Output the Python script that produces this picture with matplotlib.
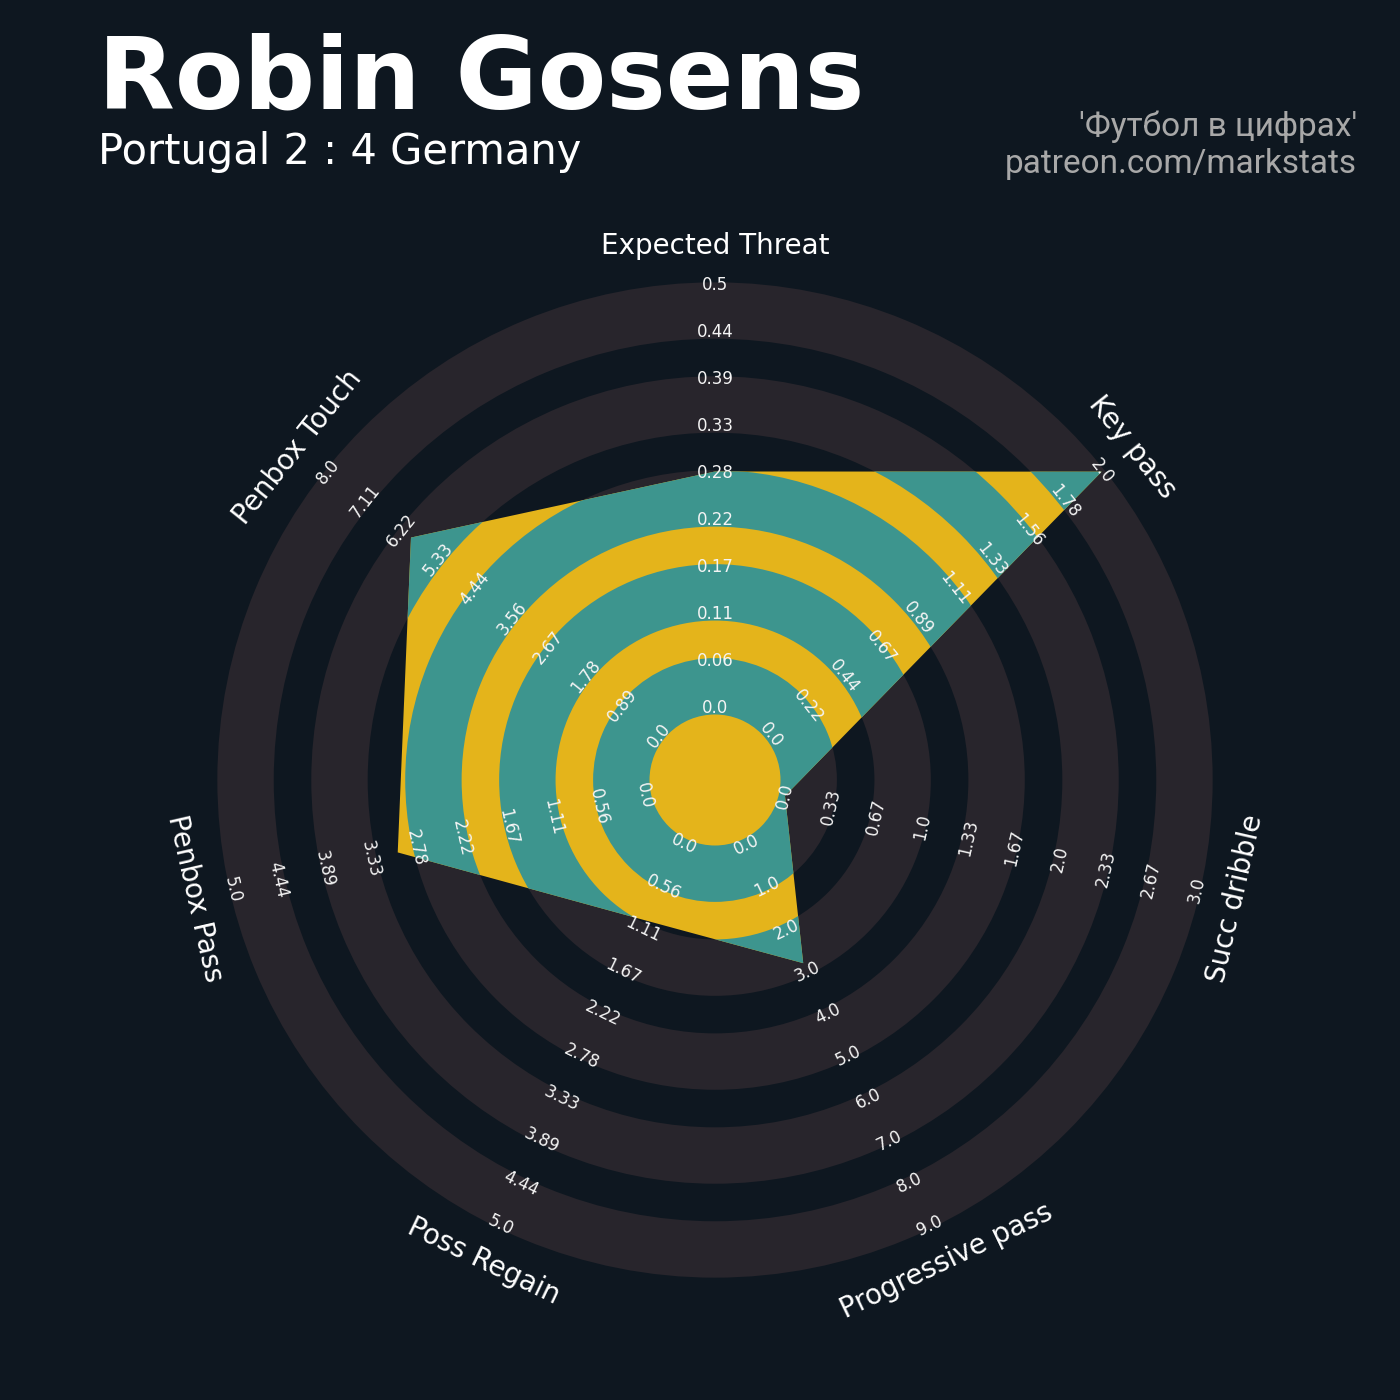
import numpy as np
import matplotlib
matplotlib.use("Agg")
import matplotlib.pyplot as plt
from matplotlib.patches import Wedge, Polygon

# ---------------- data ----------------
player = "Robin Gosens"
match = "Portugal 2 : 4 Germany"
credit_line1 = "'Футбол в цифрах'"
credit_line2 = "patreon.com/markstats"

params = ["Expected Threat", "Key pass", "Succ dribble", "Progressive pass",
          "Poss Regain", "Penbox Pass", "Penbox Touch"]
values = [0.28, 2.0, 0.0, 2.8, 1.0, 3.0, 6.0]
range_low = [0.0, 0.0, 0.0, 0.0, 0.0, 0.0, 0.0]
range_high = [0.5, 2.0, 3.0, 9.0, 5.0, 5.0, 8.0]
n_ticks = 10

# ---------------- style ----------------
BG = "#0e1720"
RING = "#28252c"
TEAL = "#3d958e"
YELLOW = "#e4b41b"
TXT = "#f4f4f4"

fig = plt.figure(figsize=(14, 14), dpi=100, facecolor=BG)
ax = fig.add_axes([0, 0, 1, 1])
ax.set_xlim(0, 1400)
ax.set_ylim(0, 1400)
ax.set_facecolor(BG)
ax.axis("off")

cx, cy = 715, 620
R0, STEP = 71.8, 46.97
n = len(params)
angles = np.deg2rad(90 - 360 / n * np.arange(n))

ring_inner = 65.5 + 2 * STEP * np.arange(5)
ring_w = 56.4

for ri in ring_inner:
    ax.add_patch(Wedge((cx, cy), ri + ring_w, 0, 360, width=ring_w,
                       facecolor=RING, edgecolor="none", zorder=1))

radii = [R0 + (v - lo) / (hi - lo) * (n_ticks - 1) * STEP
         for v, lo, hi in zip(values, range_low, range_high)]
verts = [(cx + r * np.cos(a), cy + r * np.sin(a)) for r, a in zip(radii, angles)]
poly = Polygon(verts, closed=True, facecolor=YELLOW, edgecolor="none", zorder=2)
ax.add_patch(poly)
for ri in ring_inner:
    w = Wedge((cx, cy), ri + ring_w, 0, 360, width=ring_w,
              facecolor=TEAL, edgecolor="none", zorder=3)
    ax.add_patch(w)
    w.set_clip_path(poly)


def tangent_rot(a):
    rot = np.rad2deg(a) - 90
    while rot < -90:
        rot += 180
    while rot >= 90:
        rot -= 180
    return rot


for a, lo, hi, name in zip(angles, range_low, range_high, params):
    rot = tangent_rot(a)
    ticks = np.linspace(lo, hi, n_ticks)
    for k, t in enumerate(ticks):
        r = R0 + k * STEP
        ax.text(cx + r * np.cos(a), cy + r * np.sin(a), str(round(float(t), 2)),
                rotation=rot, rotation_mode="anchor", ha="center", va="center",
                fontsize=12, color=TXT, zorder=5)
    rl = 534
    ax.text(cx + rl * np.cos(a), cy + rl * np.sin(a), name,
            rotation=rot, rotation_mode="anchor", ha="center", va="center",
            fontsize=20, color="white", zorder=5)

fig.text(98 / 1400, 1 - 108 / 1400, player, fontsize=72, fontweight="bold",
         color="white", ha="left", va="baseline")
fig.text(98 / 1400, 1 - 164 / 1400, match, fontsize=30,
         color="white", ha="left", va="baseline")
fig.text(1357 / 1400, 1 - 136 / 1400, credit_line1, fontsize=24, family="Roboto",
         color="#a8a8a8", ha="right", va="baseline")
fig.text(1357 / 1400, 1 - 173 / 1400, credit_line2, fontsize=24, family="Roboto",
         color="#a8a8a8", ha="right", va="baseline")

fig.savefig("out.png", dpi=100, facecolor=BG)
